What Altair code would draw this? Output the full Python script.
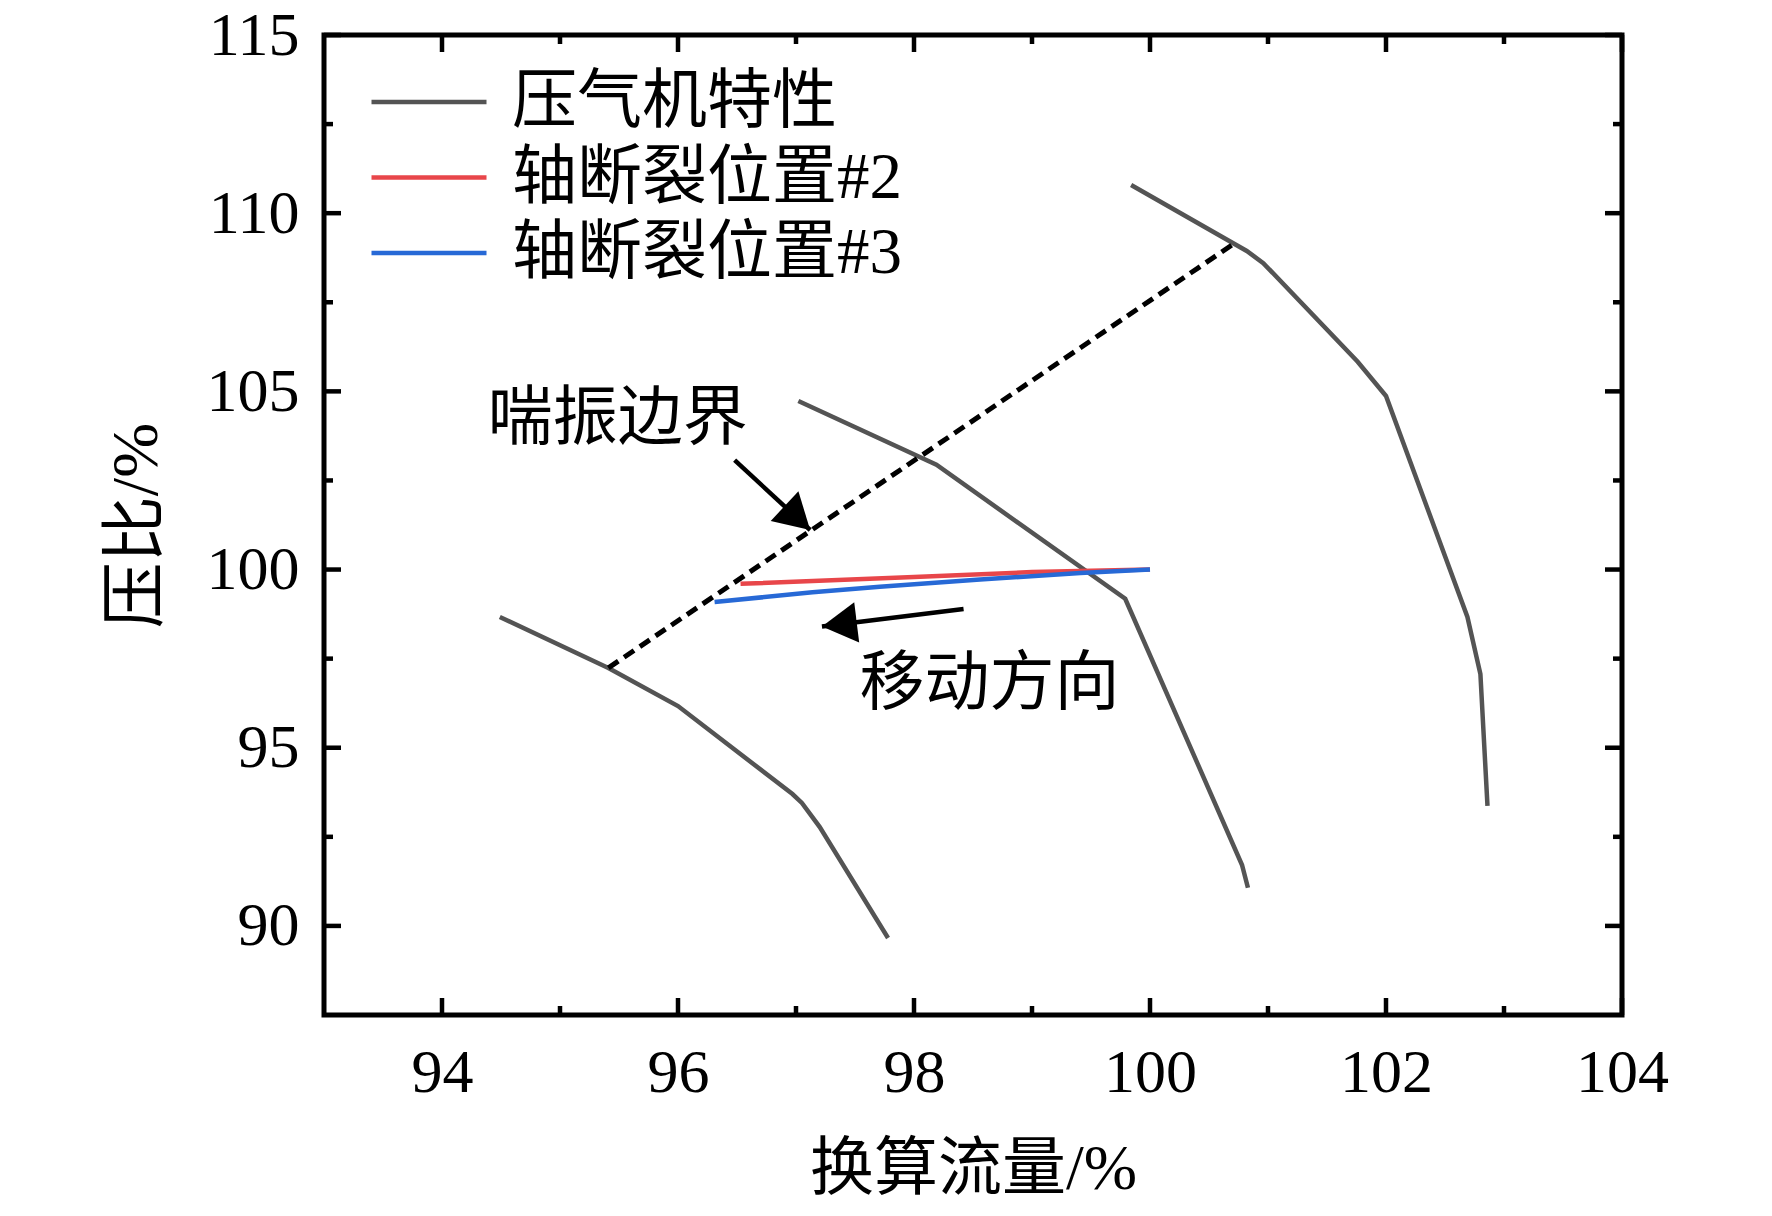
import altair as alt
import pandas as pd

# ---------------- data ----------------
series_names = ["压气机特性", "轴断裂位置#2", "轴断裂位置#3"]
series_colors = ["#545454", "#e8464a", "#2769d6"]

# compressor characteristic lines (three speed lines)
c1_x = [94.49, 95.41, 96.00, 96.97, 97.05, 97.20, 97.78]
c1_y = [98.67, 97.24, 96.17, 93.70, 93.45, 92.78, 89.66]
c2_x = [97.02, 98.19, 99.79, 100.78, 100.83]
c2_y = [104.73, 102.94, 99.18, 91.71, 91.07]
c3_x = [99.84, 100.82, 100.96, 101.76, 102.00, 102.69, 102.80, 102.86]
c3_y = [110.79, 108.94, 108.60, 105.83, 104.87, 98.67, 97.07, 93.37]

# shaft fracture operating lines
red_x = [96.53, 98.00, 99.00, 100.00]
red_y = [99.60, 99.79, 99.93, 100.00]
blue_x = [96.31, 97.14, 97.71, 98.56, 99.41, 100.00]
blue_y = [99.09, 99.36, 99.52, 99.72, 99.90, 100.00]

# surge boundary
surge_x = [95.41, 100.70]
surge_y = [97.24, 109.12]

# annotations
note_text = ["喘振边界", "移动方向"]
note_x = [95.49, 98.64]
note_y = [104.23, 96.80]

arrow_start_x = [96.48, 98.42]
arrow_start_y = [103.07, 98.89]
arrow_tip_x = [97.12, 97.22]
arrow_tip_y = [101.11, 98.40]
arrow_angle = [133, 263]

# axes
x_major = [94, 96, 98, 100, 102, 104]
x_minor = [95, 97, 99, 101, 103]
y_major = [90, 95, 100, 105, 110, 115]
y_minor = [92.5, 97.5, 102.5, 107.5, 112.5]

# ---------------- tables ----------------
def build(xs, ys, series, curve):
    return pd.DataFrame({"x": xs, "y": ys, "series": series, "curve": curve,
                         "i": list(range(len(xs)))})

gray_df = pd.concat([build(c1_x, c1_y, series_names[0], "c1"),
                     build(c2_x, c2_y, series_names[0], "c2"),
                     build(c3_x, c3_y, series_names[0], "c3")])
red_df = build(red_x, red_y, series_names[1], "r")
blue_df = build(blue_x, blue_y, series_names[2], "b")
surge_df = build(surge_x, surge_y, "surge", "s")
notes_df = pd.DataFrame({"x": note_x, "y": note_y, "t": note_text})
shaft_df = pd.DataFrame({
    "x": arrow_start_x + arrow_tip_x,
    "y": arrow_start_y + arrow_tip_y,
    "a": ["a1", "a2", "a1", "a2"],
    "i": [0, 0, 1, 1],
})
head_df = pd.DataFrame({"x": arrow_tip_x, "y": arrow_tip_y, "ang": arrow_angle})

W, H = 1298, 980
SERIF = "Liberation Serif, Noto Sans CJK SC"
LW = 4.5

xscale = alt.Scale(domain=[93, 104], nice=False, zero=False)
yscale = alt.Scale(domain=[87.5, 115], nice=False, zero=False)
cscale = alt.Scale(domain=series_names, range=series_colors)

xaxis = alt.Axis(values=x_major, format="d", title="换算流量/%", grid=False, ticks=False,
                 domain=False, labelFontSize=62, labelFont=SERIF, labelColor="black",
                 labelPadding=27, labelFlush=False, labelOverlap=False,
                 titleFontSize=64, titleFont=SERIF, titleFontWeight="normal", titleColor="black",
                 titleX=649, titleY=154, titleBaseline="middle", titleAlign="center")
yaxis = alt.Axis(values=y_major, format="d", title="压比/%", grid=False, ticks=False,
                 domain=False, labelFontSize=62, labelFont=SERIF, labelColor="black",
                 labelPadding=25, labelFlush=False, labelOverlap=False,
                 titleFontSize=66, titleFont=SERIF, titleFontWeight="normal", titleColor="black",
                 titleAngle=270, titleX=-188, titleY=490, titleBaseline="middle",
                 titleAlign="center")

legend = alt.Legend(title=None, orient="none", legendX=45, legendY=32, symbolType="stroke",
                    symbolSize=13225, symbolStrokeWidth=LW, labelFontSize=65, labelFont=SERIF,
                    labelColor="black", labelOffset=23, labelLimit=800, clipHeight=70,
                    rowPadding=5.5, padding=0)

X = alt.X("x:Q", scale=xscale, axis=xaxis)
Y = alt.Y("y:Q", scale=yscale, axis=yaxis)
COLOR = alt.Color("series:N", scale=cscale, legend=legend)

gray = alt.Chart(gray_df).mark_line(strokeWidth=LW).encode(
    x=X, y=Y, color=COLOR, detail="curve:N", order="i:Q")
surge = alt.Chart(surge_df).mark_line(strokeWidth=5, color="black", strokeDash=[12, 7]).encode(
    x="x:Q", y="y:Q", order="i:Q")
red = alt.Chart(red_df).mark_line(strokeWidth=LW).encode(x="x:Q", y="y:Q", color=COLOR, order="i:Q")
blue = alt.Chart(blue_df).mark_line(strokeWidth=LW).encode(x="x:Q", y="y:Q", color=COLOR, order="i:Q")

notes = alt.Chart(notes_df).mark_text(font=SERIF, fontSize=65, color="black",
                                      align="center", baseline="middle").encode(
    x="x:Q", y="y:Q", text="t:N")
shafts = alt.Chart(shaft_df).mark_line(strokeWidth=4.5, color="black").encode(
    x="x:Q", y="y:Q", detail="a:N", order="i:Q")
heads = alt.Chart(head_df).mark_point(shape="M0,0L-0.58,1L0.58,1Z", size=4900, filled=True,
                                      color="black", opacity=1, strokeWidth=0).encode(
    x="x:Q", y="y:Q", angle=alt.Angle("ang:Q", scale=None))

# inward ticks on all four sides
xmaj_df = pd.DataFrame({"v": x_major})
xmin_df = pd.DataFrame({"v": x_minor})
ymaj_df = pd.DataFrame({"v": y_major})
ymin_df = pd.DataFrame({"v": y_minor})
TW = 4.5
MAJ, MIN = 17, 9

def xticks(df, length):
    bottom = alt.Chart(df).mark_rule(strokeWidth=TW, color="black").encode(
        x="v:Q", y=alt.value(H), y2=alt.value(H - length))
    top = alt.Chart(df).mark_rule(strokeWidth=TW, color="black").encode(
        x="v:Q", y=alt.value(0), y2=alt.value(length))
    return bottom + top

def yticks(df, length):
    left = alt.Chart(df).mark_rule(strokeWidth=TW, color="black").encode(
        y="v:Q", x=alt.value(0), x2=alt.value(length))
    right = alt.Chart(df).mark_rule(strokeWidth=TW, color="black").encode(
        y="v:Q", x=alt.value(W), x2=alt.value(W - length))
    return left + right

chart = alt.layer(
    gray, surge, red, blue, shafts, heads, notes,
    xticks(xmaj_df, MAJ), xticks(xmin_df, MIN), yticks(ymaj_df, MAJ), yticks(ymin_df, MIN),
).properties(
    width=W, height=H,
    autosize=alt.AutoSizeParams(type="none"),
    padding={"left": 316, "top": 27, "right": 140, "bottom": 188},
    background="white",
).configure_view(stroke="black", strokeWidth=5)

chart.save("out.html", embed_options={"renderer": "svg", "actions": False})
